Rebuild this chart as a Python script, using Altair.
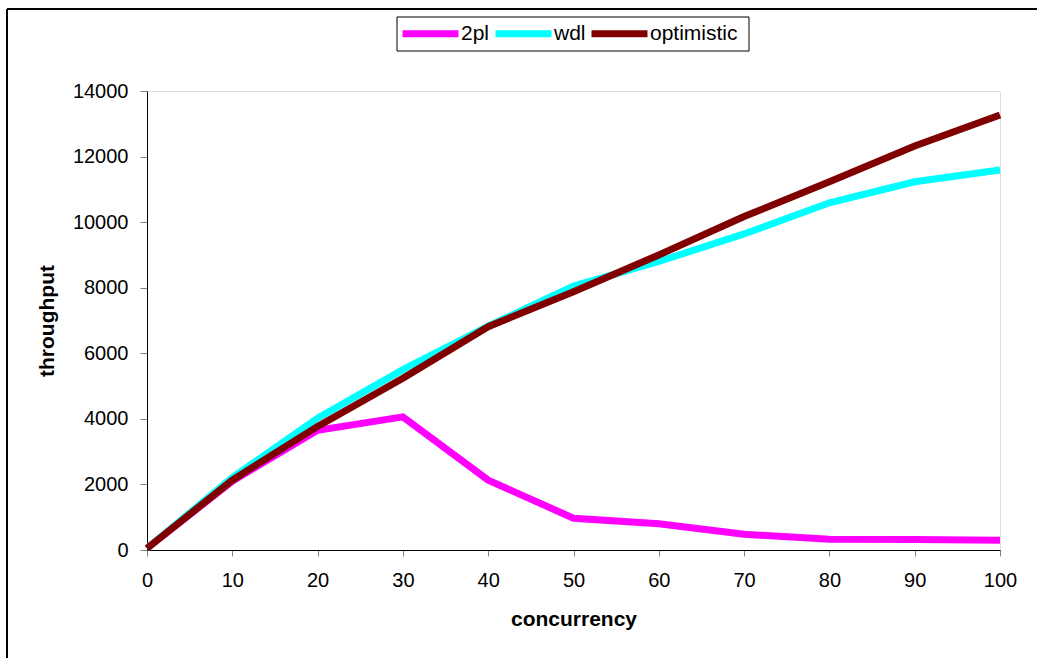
import altair as alt
import pandas as pd

concurrency = [0, 10, 20, 30, 40, 50, 60, 70, 80, 90, 100]
series_names = ["2pl", "wdl", "optimistic"]
s_2pl = [50, 2100, 3650, 4060, 2130, 970, 800, 480, 330, 320, 300]
s_wdl = [50, 2210, 4020, 5500, 6830, 8050, 8800, 9640, 10590, 11230, 11590]
s_opt = [50, 2130, 3770, 5240, 6810, 7880, 9000, 10170, 11230, 12320, 13270]
colors = ["#FF00FF", "#00FFFF", "#800000"]

rows = []
for name, vals in zip(series_names, [s_2pl, s_wdl, s_opt]):
    for c, v in zip(concurrency, vals):
        rows.append({"concurrency": c, "throughput": v, "series": name,
                     "order": series_names.index(name)})
df = pd.DataFrame(rows)

FONT = "Liberation Sans"
W, H = 853, 459
PL, PT = 147, 91

lines = alt.Chart(df).mark_line(strokeWidth=7, strokeJoin="miter", strokeCap="butt").encode(
    x=alt.X("concurrency:Q",
            scale=alt.Scale(domain=[0, 100], nice=False, zero=False),
            axis=alt.Axis(values=concurrency, title="concurrency", grid=False,
                          tickSize=6, tickColor="#808080", domainColor="#000000",
                          labelPadding=14, labelFontSize=20, labelFont=FONT,
                          labelColor="#000000", titleFont=FONT, titleFontSize=21,
                          titleFontWeight="bold", titleColor="#000000",
                          titleBaseline="middle", titleY=69, labelFlush=False,
                          format="d")),
    y=alt.Y("throughput:Q",
            scale=alt.Scale(domain=[0, 14000], nice=False),
            axis=alt.Axis(values=list(range(0, 14001, 2000)), title="throughput",
                          grid=False, tickSize=7, tickColor="#808080",
                          domainColor="#000000", labelPadding=12, labelFontSize=20,
                          labelFont=FONT, labelColor="#000000", titleFont=FONT,
                          titleFontSize=21, titleFontWeight="bold",
                          titleColor="#000000", titleBaseline="middle",
                          titleX=-100, titleY=229.5, titleAngle=270,
                          format="d")),
    color=alt.Color("series:N",
                    scale=alt.Scale(domain=series_names, range=colors),
                    legend=alt.Legend(title=None, orient="none", direction="horizontal",
                                      legendX=272, legendY=-69,
                                      symbolType="M-3.5,0H3.5", symbolSize=256,
                                      symbolStrokeWidth=7, labelFontSize=21,
                                      labelFont=FONT, labelColor="#000000",
                                      labelOffset=19, columnPadding=-9,
                                      padding=0)),
    order=alt.Order("order:Q"),
    detail="series:N",
)

one = pd.DataFrame({"k": [0]})
border_top = alt.Chart(one).mark_rule(color="#000000", strokeWidth=2).encode(
    x=alt.value(-140), x2=alt.value(900), y=alt.value(-82))
border_left = alt.Chart(one).mark_rule(color="#000000", strokeWidth=2).encode(
    x=alt.value(-140), y=alt.value(-82), y2=alt.value(600))
legend_box = alt.Chart(one).mark_rect(fill="#FFFFFF", stroke="#000000", strokeWidth=1).encode(
    x=alt.value(250), x2=alt.value(602), y=alt.value(-74), y2=alt.value(-40))

chart = alt.layer(border_top, border_left, legend_box, lines).properties(
    width=W, height=H,
    autosize=alt.AutoSizeParams(type="none"),
    padding={"left": PL, "top": PT, "right": 1037 - PL - W, "bottom": 658 - PT - H},
).configure_view(stroke=None).configure(background="#FFFFFF")

chart.save("out.html", embed_options={"renderer": "svg", "actions": False})
